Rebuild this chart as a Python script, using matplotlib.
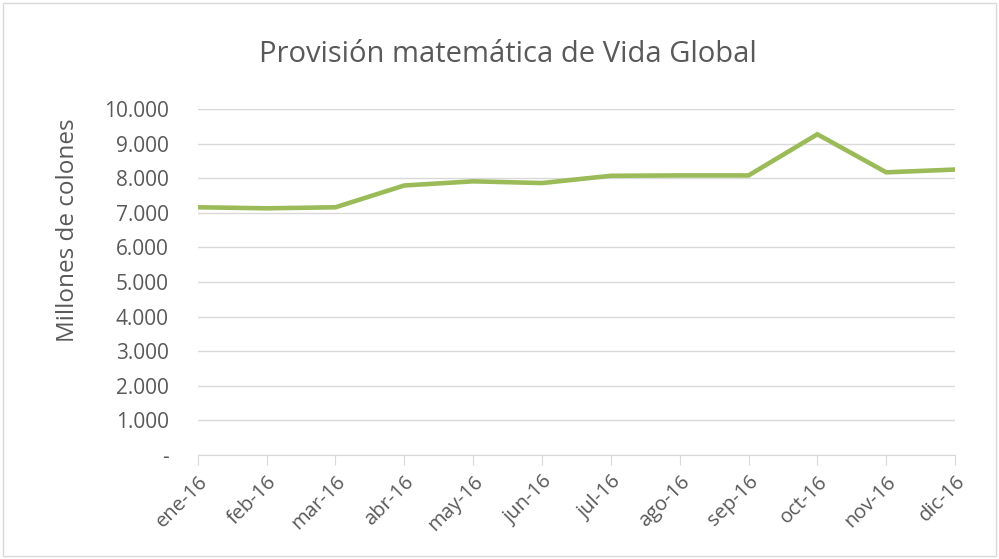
import matplotlib.pyplot as plt
from matplotlib.patches import Rectangle

# datos
meses = ["ene-16", "feb-16", "mar-16", "abr-16", "may-16", "jun-16",
         "jul-16", "ago-16", "sep-16", "oct-16", "nov-16", "dic-16"]
provision = [7160, 7130, 7160, 7790, 7910, 7860, 8070, 8080, 8080, 9270, 8170, 8250]
yticks = [0, 1000, 2000, 3000, 4000, 5000, 6000, 7000, 8000, 9000, 10000]
ylabels = ["-", "1.000", "2.000", "3.000", "4.000", "5.000",
           "6.000", "7.000", "8.000", "9.000", "10.000"]

gris = "#595959"
plt.rcParams['font.family'] = ['Open Sans', 'DejaVu Sans']

fig = plt.figure(figsize=(9.99, 5.59), dpi=100)
ax = fig.add_axes([0.198, 0.186, 0.758, 0.619])

x = list(range(len(meses)))
ax.plot(x, provision, color="#9BBB59", lw=3.3, solid_joinstyle="miter")

ax.set_xlim(0, len(meses) - 1)
ax.set_ylim(0, 10000)
ax.set_yticks(yticks)
ax.set_yticklabels(ylabels, color=gris, fontsize=15)
ax.set_xticks(x)
ax.set_xticklabels(meses, rotation=45, ha="right", rotation_mode="anchor",
                   color=gris, fontsize=14.5)
ax.grid(axis="y", color="#D9D9D9", lw=1)
ax.set_axisbelow(True)
for s in ["top", "right", "left"]:
    ax.spines[s].set_visible(False)
ax.spines["bottom"].set_color("#D9D9D9")
ax.tick_params(axis="y", length=0, pad=21)
ax.tick_params(axis="x", length=7, color="#D9D9D9", pad=5)

ax.set_ylabel("Millones de colones", color=gris, fontsize=17.5)
ax.yaxis.set_label_coords(-0.156, 0.65)
fig.text(0.508, 0.903, "Provisión matemática de Vida Global", ha="center",
         va="center", color=gris, fontsize=21)

# borde del grafico
fig.patches.append(Rectangle((0.003, 0.005), 0.994, 0.99, transform=fig.transFigure,
                             fill=False, edgecolor="#D9D9D9", lw=1))

fig.savefig("out.png", dpi=100)
